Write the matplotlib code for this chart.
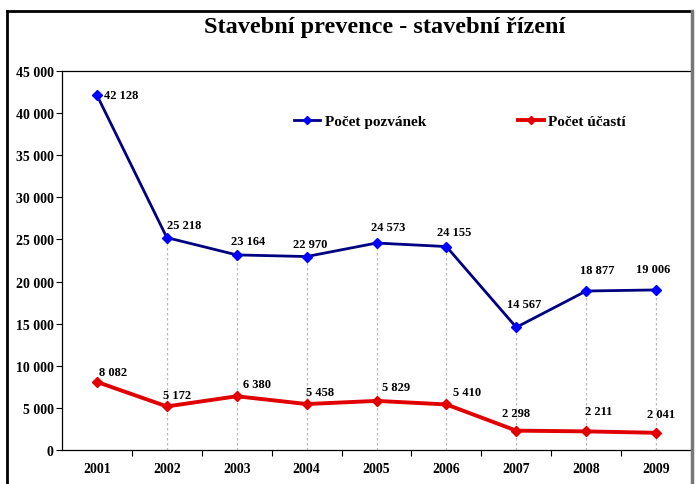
import matplotlib
matplotlib.use("Agg")
import matplotlib.pyplot as plt
from matplotlib.lines import Line2D
from matplotlib.ticker import FuncFormatter

years = ["2001", "2002", "2003", "2004", "2005", "2006", "2007", "2008", "2009"]
pozvanek = [42128, 25218, 23164, 22970, 24573, 24155, 14567, 18877, 19006]
ucasti = [8082, 5172, 6380, 5458, 5829, 5410, 2298, 2211, 2041]
series_names = ["Počet pozvánek", "Počet účastí"]
title = "Stavební prevence - stavební řízení"

# label offsets in pixels (dx, dy) relative to point (style/position only)
off_blue = [(24, 0), (17, 13), (11, 14), (4, 13), (12, 16), (8, 15), (8, 23), (11, 21), (-3, 21)]
off_red = [(16, 10), (10, 11), (20, 12), (13, 12), (20, 14), (21, 12), (0, 18), (13, 20), (5, 19)]

W, H = 697, 485
fig = plt.figure(figsize=(W / 100, H / 100), dpi=100)
serif = "Liberation Serif"

ax = fig.add_axes([62 / W, 1 - 451 / H, (691 - 62) / W, (451 - 72) / H])
x = list(range(len(years)))

# drop lines
for i in x[1:]:
    ax.plot([i, i], [0, pozvanek[i]], color="#b8b8b8", lw=0.9, ls=(0, (2, 2)), zorder=1)

ax.plot(x, pozvanek, color="#000080", lw=2.0, marker="D", ms=5.5,
        mfc="#0000ff", mec="#0000ff", label=series_names[0], zorder=3)
ax.plot(x, ucasti, color="#e00000", lw=2.8, marker="D", ms=5.5,
        mfc="#e00000", mec="#e00000", label=series_names[1], zorder=3)

def fmt(v):
    return f"{int(v):,}".replace(",", " ")

for i, v in enumerate(pozvanek):
    dx, dy = off_blue[i]
    ax.annotate(fmt(v), (i, v), xytext=(dx * 0.72, dy * 0.72), textcoords="offset points",
                ha="center", va="center", fontsize=9, fontweight="bold", family=serif)
for i, v in enumerate(ucasti):
    dx, dy = off_red[i]
    ax.annotate(fmt(v), (i, v), xytext=(dx * 0.72, dy * 0.72), textcoords="offset points",
                ha="center", va="center", fontsize=9, fontweight="bold", family=serif)

ax.set_xlim(-0.5, len(years) - 0.5)
ax.set_ylim(0, 45000)
ax.set_yticks(range(0, 45001, 5000))
ax.yaxis.set_major_formatter(FuncFormatter(lambda v, p: fmt(v)))
ax.set_xticks(x)
ax.set_xticklabels(years)
ax.set_xticks([i + 0.5 for i in x[:-1]], minor=True)
ax.tick_params(axis="x", which="major", length=0, pad=9)
ax.tick_params(axis="x", which="minor", length=4, direction="out", width=0.8)
ax.tick_params(axis="y", length=4, direction="out", width=0.8, pad=2)
for lab in ax.get_xticklabels() + ax.get_yticklabels():
    lab.set_family(serif)
    lab.set_fontweight("bold")
    lab.set_fontsize(10)
for s in ["left", "bottom", "top"]:
    ax.spines[s].set_linewidth(0.9)
    ax.spines[s].set_color("black")
ax.spines["right"].set_visible(False)

leg = ax.legend(ncol=2, loc="center", bbox_to_anchor=((460 - 62) / (691 - 62), (451 - 122) / (451 - 72)),
                frameon=False, handlelength=1.7, handletextpad=0.3, columnspacing=6.0,
                prop={"family": serif, "weight": "bold", "size": 11}, markerscale=0.8)

fig.text(385 / W, 1 - 27 / H, title, ha="center", va="center", fontsize=17.5,
         fontweight="bold", family=serif)

# outer frame
fig.add_artist(Line2D([7 / W, 7 / W], [0, 1 - 12 / H], transform=fig.transFigure, color="black", lw=2))
fig.add_artist(Line2D([7 / W, 692 / W], [1 - 12 / H, 1 - 12 / H], transform=fig.transFigure, color="black", lw=2))
fig.add_artist(Line2D([692 / W, 692 / W], [0, 1 - 12 / H], transform=fig.transFigure, color="#777777", lw=2.5))

fig.savefig("out.png", dpi=100)
